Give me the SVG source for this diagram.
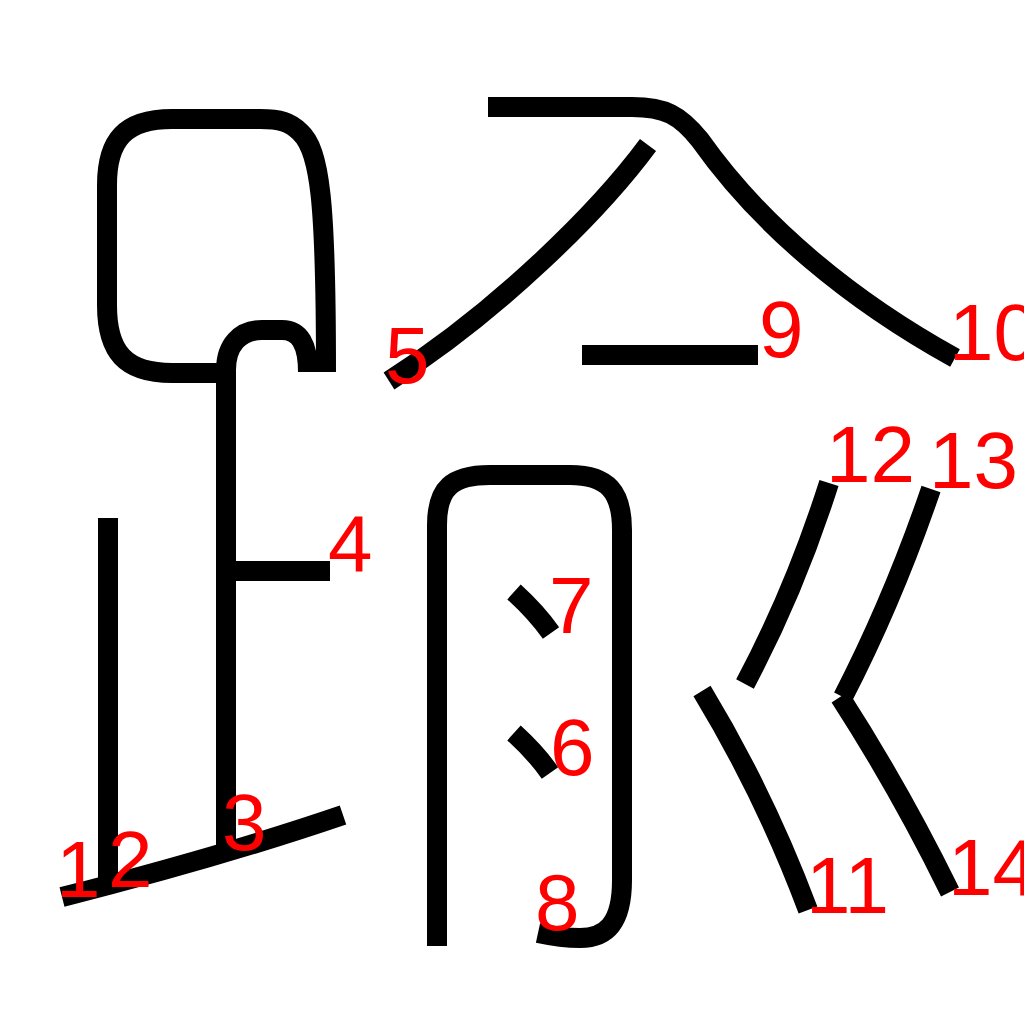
<svg xmlns="http://www.w3.org/2000/svg" width="1024" height="1024" viewBox="0 0 1024 1024">
<style>
.s{fill:none;stroke:#000;stroke-width:20;stroke-linecap:butt;stroke-linejoin:round}
.n{fill:#f00;font-family:"Liberation Sans",Arial,sans-serif;font-size:80px}
</style>
<rect width="1024" height="1024" fill="#fff"/>
<g id="strokes">
<g id="s1"><path class="s" d="M108,518 L108,882"/></g>
<g id="s2"><path class="s" d="M343,815 Q220,857 62,897"/></g>
<g id="sA"><path class="s" d="M326,372 C326,200 320,150 300,132 C290,122 280,119 260,119 L172,119 C125,119 107,140 107,185 L107,305 C107,352 125,373 172,373 L226,373"/></g>
<g id="s3"><path class="s" d="M226,846 L226,370 C226,345 240,330 262,330 L282,330 C300,330 308,345 308,372"/></g>
<g id="s4"><path class="s" d="M236,571 L330,571"/></g>
<g id="s5"><path class="s" d="M648,145 C600,210 500,310 389,381"/></g>
<g id="s10"><path class="s" d="M488,107 L632,107 C665,107 680,115 700,140 C760,225 850,300 955,358"/></g>
<g id="s9"><path class="s" d="M582,355 L758,355"/></g>
<g id="s8"><path class="s" d="M437,946 L437,525 C437,488 452,475 490,475 L570,475 C608,475 622,492 622,530 L622,880 C622,925 605,938 580,938 C565,938 552,936 538,933"/></g>
<g id="s7"><path class="s" d="M514,592 Q536,612 551,633"/></g>
<g id="s6"><path class="s" d="M514,733 Q536,753 550,773"/></g>
<g id="s12"><path class="s" d="M829,483 Q795,590 745,684"/></g>
<g id="s11"><path class="s" d="M702,691 Q765,795 808,910"/></g>
<g id="s13"><path class="s" d="M931,489 Q893,600 843,697"/></g>
<g id="s14"><path class="s" d="M840,697 Q900,790 950,892"/></g>
</g>
<g id="labels">
<text class="n" x="56" y="897">1</text>
<text class="n" x="108" y="887">2</text>
<text class="n" x="222" y="850">3</text>
<text class="n" x="328" y="571">4</text>
<text class="n" x="385" y="383">5</text>
<text class="n" x="550" y="775">6</text>
<text class="n" x="549" y="633">7</text>
<text class="n" x="535" y="930">8</text>
<text class="n" x="759" y="357">9</text>
<text class="n" x="949" y="360">10</text>
<text class="n" x="806" y="913">11</text>
<text class="n" x="826" y="482">12</text>
<text class="n" x="929" y="488">13</text>
<text class="n" x="948" y="895">14</text>
</g>
</svg>
